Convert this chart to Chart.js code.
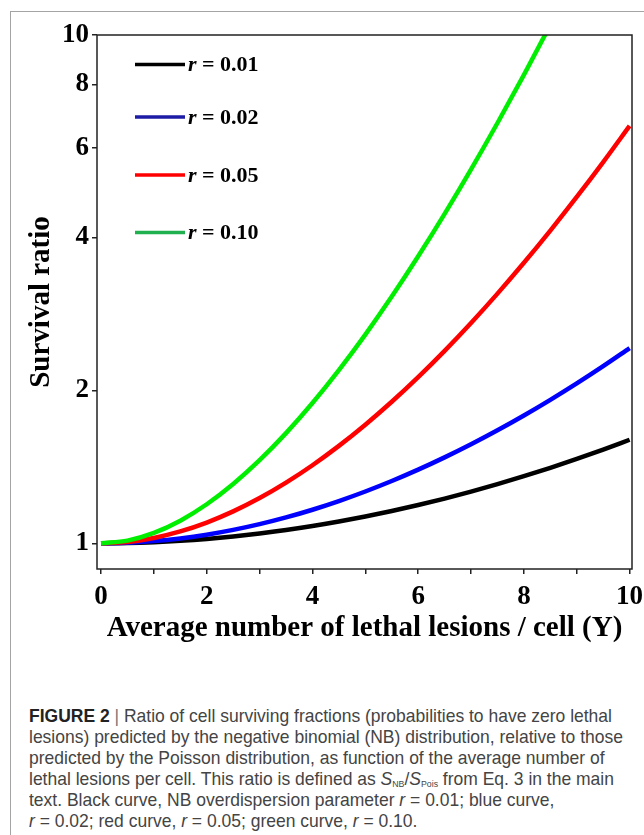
<!DOCTYPE html>
<html>
<head>
<meta charset="utf-8">
<script src="https://cdn.jsdelivr.net/npm/chart.js@4.4.1/dist/chart.umd.min.js"></script>
<style>
html,body{margin:0;padding:0;background:#fff;}
#wrap{position:relative;width:644px;height:835px;overflow:hidden;background:#fff;}
#frame{position:absolute;left:10px;top:11px;width:760px;height:900px;border-top:1px solid #a4a4a4;border-left:1px solid #a4a4a4;}
#c{position:absolute;left:0;top:0;}
#caption{position:absolute;left:29px;top:705px;font-family:"Liberation Sans",Arial,"Helvetica",sans-serif;font-size:19px;line-height:21.1px;color:#444;white-space:nowrap;transform-origin:0 0;}
#caption .ln{display:block;}
#caption b{color:#222;}
#caption .bar{color:#777;}
#caption sub{font-size:9.5px;vertical-align:-2px;line-height:0;}
</style>
</head>
<body>
<div id="wrap">
  <div id="frame"></div>
  <canvas id="c" width="644" height="660"></canvas>
  <div id="caption">
    <span class="ln"><b>FIGURE 2</b> <span class="bar">|</span> Ratio of cell surviving fractions (probabilities to have zero lethal</span>
    <span class="ln" id="refLine">lesions) predicted by the negative binomial (NB) distribution, relative to those</span>
    <span class="ln">predicted by the Poisson distribution, as function of the average number of</span>
    <span class="ln">lethal lesions per cell. This ratio is defined as <i>S</i><sub>NB</sub>/<i>S</i><sub>Pois</sub> from Eq. 3 in the main</span>
    <span class="ln">text. Black curve, NB overdispersion parameter <i>r</i> = 0.01; blue curve,</span>
    <span class="ln"><i>r</i> = 0.02; red curve, <i>r</i> = 0.05; green curve, <i>r</i> = 0.10.</span>
  </div>
</div>
<script>
// ---- data ----
const lesionsY = [0,0.5,1,1.5,2,2.5,3,3.5,4,4.5,5,5.5,6,6.5,7,7.5,8,8.5,9,9.5,10];
const ratioR001 = [1,1.0012,1.0050,1.0112,1.0199,1.0312,1.0451,1.0617,1.0810,1.1033,1.1286,1.1571,1.1890,1.2245,1.2638,1.3072,1.3551,1.4077,1.4655,1.5289,1.5984];
const ratioR002 = [1,1.0025,1.0099,1.0223,1.0397,1.0624,1.0904,1.1242,1.1641,1.2106,1.2643,1.3258,1.3959,1.4757,1.5661,1.6685,1.7842,1.9152,2.0632,2.2307,2.4204];
const ratioR005 = [1,1.0062,1.0245,1.0551,1.0983,1.1553,1.2272,1.3161,1.4241,1.5545,1.7111,1.8985,2.1228,2.3911,2.7126,3.0985,3.5628,4.1229,4.8005,5.6228,6.6240];
const ratioR010 = [1,1.0122,1.0480,1.1078,1.1934,1.3081,1.4570,1.6470,1.8875,2.1910,2.5737,3.0571,3.6693,4.4471,5.4397,6.7116,8.3489,10.466,13.217];
const seriesR = ['0.01','0.02','0.05','0.10'];
const yTickValues = [1,2,4,6,8,10];
const yTickLabels = ['1','2','4','6','8','10'];
const xTickValues = [0,1,2,3,4,5,6,7,8,9,10];
const xTickLabels = ['0','','2','','4','','6','','8','','10'];
const xTitle = 'Average number of lethal lesions / cell (Y)';
const yTitle = 'Survival ratio';

// ---- styles ----
const curveColors = ['#000000','#0000ff','#ff0000','#00ee00'];
const legendColors = ['#000000','#1c1ca6','#ff0000','#20b050'];
const legendRowY = [64.5, 117, 175, 232.5];
const serif = '"Liberation Serif","Times New Roman",Times,serif';

const seriesValues = [ratioR001, ratioR002, ratioR005, ratioR010];
const datasets = seriesValues.map((vals, i) => ({
  label: 'r = ' + seriesR[i],
  data: vals.map((v, k) => ({x: lesionsY[k], y: v})),
  borderColor: curveColors[i],
  backgroundColor: curveColors[i],
  borderWidth: 4.5,
  pointRadius: 0,
  fill: false,
  cubicInterpolationMode: 'monotone',
  order: 3 - i
}));

const boxAndLegend = {
  id: 'boxAndLegend',
  afterDatasetsDraw(chart) {
    const {ctx, chartArea: a} = chart;
    ctx.save();
    ctx.strokeStyle = '#222';
    ctx.lineWidth = 1.5;
    ctx.strokeRect(a.left, a.top, a.right - a.left, a.bottom - a.top);
    // legend
    seriesR.forEach((r, i) => {
      const y = legendRowY[i];
      ctx.strokeStyle = legendColors[i];
      ctx.lineWidth = 3.5;
      ctx.beginPath();
      ctx.moveTo(135, y);
      ctx.lineTo(185, y);
      ctx.stroke();
      ctx.fillStyle = '#000';
      ctx.textBaseline = 'middle';
      ctx.textAlign = 'left';
      ctx.font = 'italic bold 22px ' + serif;
      ctx.fillText('r', 188, y + 1);
      const w = ctx.measureText('r').width;
      ctx.font = 'bold 22px ' + serif;
      ctx.fillText(' = ' + r, 188 + w, y + 1);
    });
    ctx.restore();
  }
};

new Chart(document.getElementById('c'), {
  type: 'line',
  data: {datasets},
  options: {
    responsive: false,
    animation: false,
    layout: {padding: {top: 35, right: 12, left: 0, bottom: 0}},
    plugins: {legend: {display: false}, tooltip: {enabled: false}},
    scales: {
      x: {
        type: 'linear',
        min: -0.076,
        max: 10.045,
        afterBuildTicks: s => { s.ticks = xTickValues.map(v => ({value: v})); },
        afterFit: s => { s.height = 91; s.paddingLeft = 0; s.paddingRight = 0; },
        grid: {drawOnChartArea: false, drawTicks: true, tickLength: 5, color: '#222', lineWidth: 1.5},
        border: {display: false},
        ticks: {
          autoSkip: false, maxRotation: 0, padding: 7, color: '#000',
          font: {family: serif, weight: 'bold', size: 27},
          callback: (v, i) => xTickLabels[i]
        },
        title: {
          display: true, text: xTitle, color: '#000',
          font: {family: serif, weight: 'bold', size: 29},
          padding: {top: 0, bottom: 14}
        }
      },
      y: {
        type: 'logarithmic',
        min: 0.89,
        max: 10,
        afterBuildTicks: s => { s.ticks = yTickValues.map(v => ({value: v})); },
        afterFit: s => { s.width = 97; s.paddingTop = 0; s.paddingBottom = 0; },
        grid: {drawOnChartArea: false, drawTicks: true, tickLength: 5, color: '#222', lineWidth: 1.5},
        border: {display: false},
        ticks: {
          autoSkip: false, padding: 3, color: '#000',
          font: {family: serif, weight: 'bold', size: 27},
          callback: (v, i) => yTickLabels[i]
        },
        title: {
          display: true, text: yTitle, color: '#000',
          font: {family: serif, weight: 'bold', size: 29},
          padding: {top: 24, bottom: 0}
        }
      }
    }
  },
  plugins: [boxAndLegend]
});

// fit caption width to the reference line width
(function () {
  const cap = document.getElementById('caption');
  const ref = document.getElementById('refLine');
  const r = document.createRange();
  r.selectNodeContents(ref);
  const w = r.getBoundingClientRect().width;
  if (w > 0) cap.style.transform = 'scaleX(' + (594 / w) + ')';
})();
</script>
</body>
</html>
